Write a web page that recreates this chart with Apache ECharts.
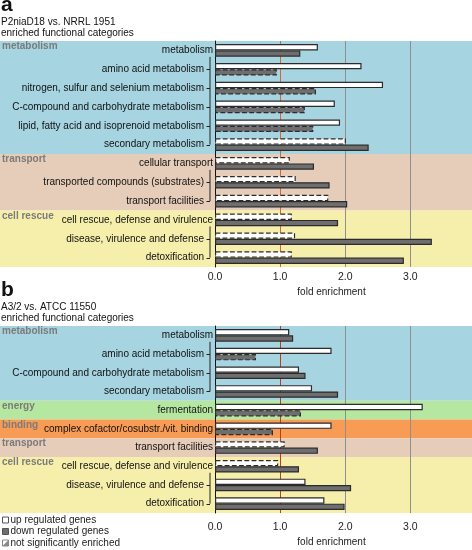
<!DOCTYPE html>
<html><head><meta charset="utf-8">
<script src="https://cdn.jsdelivr.net/npm/echarts@6/dist/echarts.min.js"></script>
<style>html,body{margin:0;padding:0;background:#fff}#c{width:472px;height:550px}</style>
</head><body><div id="c"></div>
<script>
// ---------- Panel a ----------
const catsA = ['metabolism','amino acid metabolism','nitrogen, sulfur and selenium metabolism','C-compound and carbohydrate metabolism','lipid, fatty acid and isoprenoid metabolism','secondary metabolism','cellular transport','transported compounds (substrates)','transport facilities','cell rescue, defense and virulence','disease, virulence and defense','detoxification'];
const upA = [1.58,2.25,2.58,1.84,1.92,2.01,1.15,1.24,1.74,1.18,1.23,1.18];
const downA = [1.31,0.95,1.55,1.38,1.51,2.36,1.52,1.76,2.03,1.89,3.33,2.90];
const upSigA = [1,1,1,1,1,0,0,0,0,0,0,0];
const downSigA = [1,0,0,0,0,1,1,1,1,1,1,1];
const groupNamesA = ['metabolism','transport','cell rescue'];
const groupSizesA = [6,3,3];
const groupColorsA = ['#a6d4e0','#e6cdb9','#f6efab'];

// ---------- Panel b ----------
const catsB = ['metabolism','amino acid metabolism','C-compound and carbohydrate metabolism','secondary metabolism','fermentation','complex cofactor/cosubstr./vit. binding','transport facilities','cell rescue, defense and virulence','disease, virulence and defense','detoxification'];
const upB = [1.14,1.79,1.29,1.49,3.19,1.79,1.07,0.97,1.39,1.68];
const downB = [1.20,0.63,1.39,1.89,1.32,0.89,1.58,1.29,2.09,1.99];
const upSigB = [1,1,1,1,1,1,0,0,1,1];
const downSigB = [1,0,1,1,0,0,1,1,1,1];
const groupNamesB = ['metabolism','energy','binding','transport','cell rescue'];
const groupSizesB = [4,1,1,1,3];
const groupColorsB = ['#a6d4e0','#b6e7a1','#f89b54','#e6cdb9','#f6efab'];

const xTickLabels = ['0.0','1.0','2.0','3.0'];
const panelLetters = ['a','b'];
const panelTitles = [['P2niaD18 vs. NRRL 1951','enriched functional categories'],['A3/2 vs. ATCC 11550','enriched functional categories']];
const legendLabels = ['up regulated genes','down regulated genes','not significantly enriched'];

const FONT = '"Liberation Sans", Arial, sans-serif';
const chart = echarts.init(document.getElementById('c'));

function subFlags(sizes){
  const f=[]; sizes.forEach(s=>{for(let i=0;i<s;i++) f.push(s>1 && i>0);}); return f;
}
const subA = subFlags(groupSizesA), subB = subFlags(groupSizesB);

function barData(vals, sig, fill){
  return vals.map((v,i)=>({value:v,itemStyle:{color:fill,borderColor:'#2b2b2b',borderWidth:1.2,borderType:sig[i]?'solid':'dashed'}}));
}
function xAxisCfg(g, orange, margin, nameGap){
  return {type:'value',gridIndex:g,min:0,max:3.9,interval:1,
    axisLine:{show:false},axisTick:{show:false},
    axisLabel:{fontFamily:FONT,fontSize:10.5,color:'#222',margin:margin,formatter:v=>Number.isInteger(v)&&v<xTickLabels.length?xTickLabels[v]:''},
    splitLine:{show:true,lineStyle:{width:1,color:['rgba(0,0,0,0)',orange,'#8f8f8f','#8f8f8f','rgba(0,0,0,0)']}},
    name:'fold enrichment',nameLocation:'middle',nameGap:nameGap,
    nameTextStyle:{fontFamily:FONT,fontSize:10,color:'#222',padding:[0,21,0,0]}};
}
function yAxisCfg(g, cats, sub){
  return {type:'category',gridIndex:g,data:cats,inverse:true,
    axisLine:{show:true,lineStyle:{color:'#111',width:1}},axisTick:{show:false},
    axisLabel:{margin:2,fontFamily:FONT,fontSize:10,color:'#111',
      formatter:(v,i)=>sub[i]?'{s|'+v+'}':'{p|'+v+'}',
      rich:{p:{fontFamily:FONT,fontSize:10,color:'#111'},s:{fontFamily:FONT,fontSize:10,color:'#111',padding:[0,9,0,0]}}}};
}

chart.setOption({
  animation:false,
  grid:[{left:215,right:0,top:41,height:226},{left:215,right:0,top:326,height:187}],
  xAxis:[xAxisCfg(0,'#dc6428',5,20),xAxisCfg(1,'#b8401c',9,24)],
  yAxis:[yAxisCfg(0,catsA,subA),yAxisCfg(1,catsB,subB)],
  series:[
    {type:'bar',name:legendLabels[0],xAxisIndex:0,yAxisIndex:0,barWidth:6.3,barGap:'0%',data:barData(upA,upSigA,'#ffffff'),silent:true},
    {type:'bar',name:legendLabels[1],xAxisIndex:0,yAxisIndex:0,barWidth:6.3,barGap:'0%',data:barData(downA,downSigA,'#6e6e6e'),silent:true},
    {type:'bar',name:legendLabels[0],xAxisIndex:1,yAxisIndex:1,barWidth:6.3,barGap:'0%',data:barData(upB,upSigB,'#ffffff'),silent:true},
    {type:'bar',name:legendLabels[1],xAxisIndex:1,yAxisIndex:1,barWidth:6.3,barGap:'0%',data:barData(downB,downSigB,'#6e6e6e'),silent:true}
  ]
});

// ---------- decorations computed from the chart's own scales ----------
const W = chart.getWidth();
const els = [];
function panelDecor(g, cats, sizes, names, colors){
  const y = c => chart.convertToPixel({yAxisIndex:g}, c);
  const x0 = chart.convertToPixel({xAxisIndex:g}, 0);
  const rowH = Math.abs(y(cats[1]) - y(cats[0]));
  let idx = 0;
  sizes.forEach((s,k)=>{
    const first = cats[idx], last = cats[idx+s-1];
    const top = y(first) - rowH/2, bot = y(last) + rowH/2;
    els.push({type:'rect',z:-10,silent:true,shape:{x:0,y:top,width:W,height:bot-top},style:{fill:colors[k]}});
    els.push({type:'text',z:5,silent:true,x:2,y:top+5.5,style:{text:names[k],font:'bold 10px '+FONT,fill:'#7b7b7b',verticalAlign:'middle'}});
    if (s>1){
      const bx = x0 - 5;
      const yTop = y(first) + 6.5, yBot = y(last);
      els.push({type:'line',z:5,silent:true,shape:{x1:bx,y1:yTop,x2:bx,y2:yBot},style:{stroke:'#222',lineWidth:1}});
      for(let i=1;i<s;i++){
        const yy = Math.round(y(cats[idx+i]))+0.5;
        els.push({type:'line',z:5,silent:true,shape:{x1:bx-3.5,y1:yy,x2:bx,y2:yy},style:{stroke:'#222',lineWidth:1}});
      }
    }
    idx += s;
  });
}
panelDecor(0, catsA, groupSizesA, groupNamesA, groupColorsA);
panelDecor(1, catsB, groupSizesB, groupNamesB, groupColorsB);

// titles
const titleY = [[5,22.5,33.5],[290,307,318.5]];
[0,1].forEach(p=>{
  els.push({type:'text',silent:true,x:1,y:titleY[p][0],style:{text:panelLetters[p],font:'bold 21px '+FONT,fill:'#111',verticalAlign:'middle'}});
  els.push({type:'text',silent:true,x:1,y:titleY[p][1],style:{text:panelTitles[p][0],font:'10px '+FONT,fill:'#111',verticalAlign:'middle'}});
  els.push({type:'text',silent:true,x:1,y:titleY[p][2],style:{text:panelTitles[p][1],font:'10px '+FONT,fill:'#111',verticalAlign:'middle'}});
});

// legend
const legY = [520,531.5,543];
els.push({type:'rect',silent:true,shape:{x:2.5,y:legY[0]-3,width:6,height:6},style:{fill:'#fff',stroke:'#555',lineWidth:1}});
els.push({type:'rect',silent:true,shape:{x:2.5,y:legY[1]-3,width:6,height:6},style:{fill:'#6e6e6e',stroke:'#555',lineWidth:1}});
els.push({type:'rect',silent:true,shape:{x:2.5,y:legY[2]-3,width:6,height:6},style:{fill:'#fff',stroke:'#888',lineWidth:1}});
els.push({type:'polygon',silent:true,shape:{points:[[8.5,legY[2]-3],[8.5,legY[2]+3],[2.5,legY[2]+3]]},style:{fill:'#8a8a8a'}});
legendLabels.forEach((t,i)=>{
  els.push({type:'text',silent:true,x:10.5,y:legY[i],style:{text:t,font:'10px '+FONT,fill:'#222',verticalAlign:'middle'}});
});

chart.setOption({graphic:{elements:els}});
</script>
</body></html>
